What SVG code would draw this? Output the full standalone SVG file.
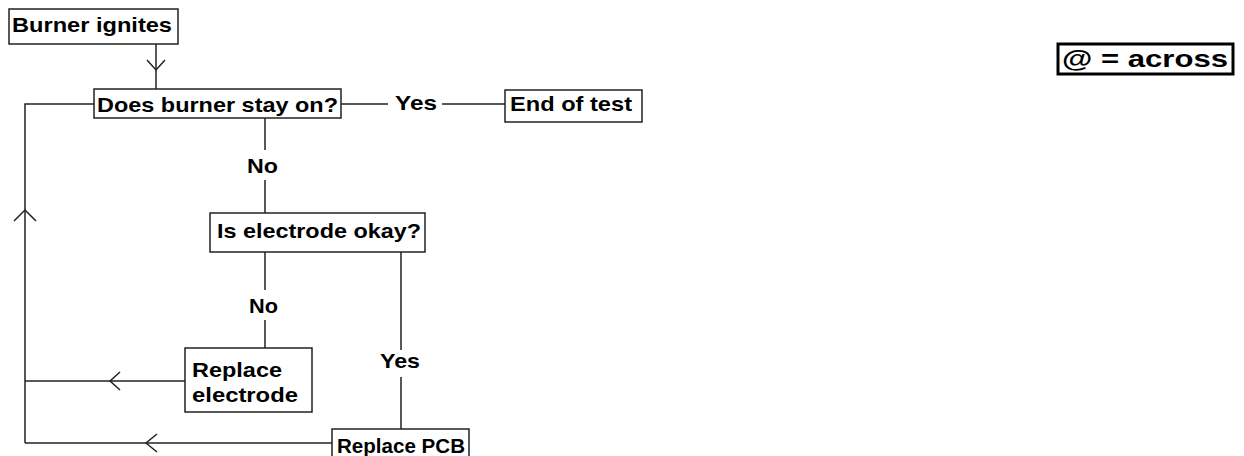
<svg xmlns="http://www.w3.org/2000/svg" width="1244" height="456" viewBox="0 0 1244 456">
<style>
.box{fill:#fff;stroke:#222;stroke-width:1.5}
.t{font-family:"Liberation Sans",Arial,sans-serif;font-weight:bold;font-size:21px;fill:#000}
.ln{fill:none;stroke:#222;stroke-width:1.5}
.lbl{font-family:"Liberation Sans",Arial,sans-serif;font-weight:bold;font-size:21px;fill:#000}
</style>
<rect width="1244" height="456" fill="#fff"/>
<g id="connectors">
<path class="ln" d="M156,44 V89"/>
<path class="ln" d="M147,60 L156,70 L165,60"/>
<path class="ln" d="M94,104 H25 V443"/>
<path class="ln" d="M14,221 L25,210 L36,221"/>
<path class="ln" d="M341,104 H388 M442,104 H505"/>
<path class="ln" d="M265,118 V150 M265,180 V213"/>
<path class="ln" d="M265,252 V290 M265,320 V348"/>
<path class="ln" d="M401,252 V350 M401,377 V429"/>
<path class="ln" d="M185,381 H25"/>
<path class="ln" d="M120,372 L110,381 L120,390"/>
<path class="ln" d="M332,443 H25"/>
<path class="ln" d="M157,434 L146,443 L157,452"/>
<text class="lbl" x="395" y="110" textLength="42" lengthAdjust="spacingAndGlyphs">Yes</text>
<text class="lbl" x="247" y="173" textLength="31" lengthAdjust="spacingAndGlyphs">No</text>
<text class="lbl" x="249" y="313" textLength="29" lengthAdjust="spacingAndGlyphs">No</text>
<text class="lbl" x="380" y="368" textLength="40" lengthAdjust="spacingAndGlyphs">Yes</text>
</g>
<g id="burner-ignites">
<rect class="box" x="9" y="9" width="169" height="35"/>
<text class="t" x="12" y="32" textLength="160" lengthAdjust="spacingAndGlyphs">Burner ignites</text>
</g>
<g id="does-burner-stay-on">
<rect class="box" x="94" y="89" width="247" height="29"/>
<text class="t" x="97" y="112" textLength="241" lengthAdjust="spacingAndGlyphs">Does burner stay on?</text>
</g>
<g id="end-of-test">
<rect class="box" x="505" y="90" width="137" height="32"/>
<text class="t" x="510" y="111" textLength="122" lengthAdjust="spacingAndGlyphs">End of test</text>
</g>
<g id="is-electrode-okay">
<rect class="box" x="210" y="213" width="215" height="39"/>
<text class="t" x="217" y="238" textLength="204" lengthAdjust="spacingAndGlyphs">Is electrode okay?</text>
</g>
<g id="replace-electrode">
<rect class="box" x="185" y="348" width="127" height="64"/>
<text class="t" x="192" y="377" textLength="90" lengthAdjust="spacingAndGlyphs">Replace</text>
<text class="t" x="192" y="402" textLength="106" lengthAdjust="spacingAndGlyphs">electrode</text>
</g>
<g id="replace-pcb">
<rect class="box" x="332" y="429" width="137" height="32"/>
<text class="t" x="337" y="453" textLength="128" lengthAdjust="spacingAndGlyphs">Replace PCB</text>
</g>
<g id="legend">
<rect x="1058" y="44" width="175" height="30" fill="#fff" stroke="#000" stroke-width="3"/>
<text x="1062" y="67" font-family="'Liberation Sans',Arial,sans-serif" font-weight="bold" font-size="24" textLength="166" lengthAdjust="spacingAndGlyphs">@ = across</text>
</g>
</svg>
